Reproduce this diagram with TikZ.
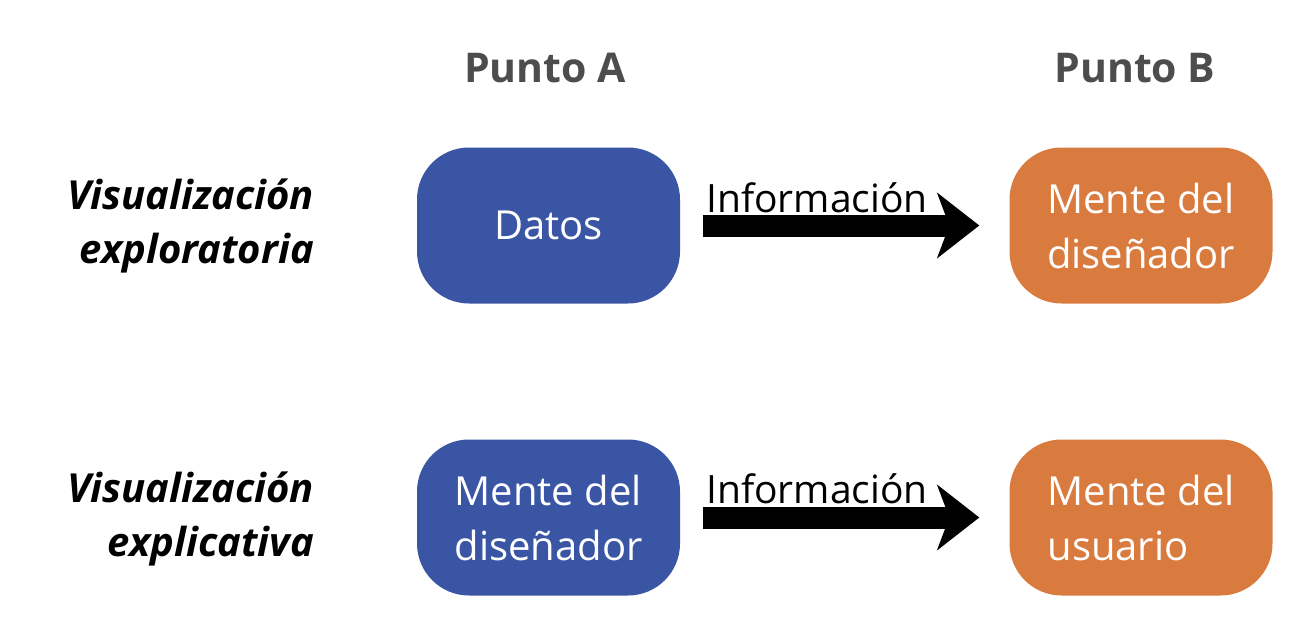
\documentclass[tikz,border=0pt]{standalone}
\usepackage{fontspec}
\setmainfont{Open Sans}
\usetikzlibrary{arrows.meta}
\definecolor{boxblue}{HTML}{3A55A4}
\definecolor{boxorange}{HTML}{D97B3E}
\definecolor{titlegray}{HTML}{4D4D4D}
\begin{document}
\begin{tikzpicture}[x=1pt,y=-1pt,
 box/.style={rounded corners=52pt, minimum width=263pt, minimum height=156pt, inner sep=0pt, text=white, font=\fontsize{40}{55}\selectfont, align=left},
 bluebox/.style={box, fill=boxblue},
 orangebox/.style={box, fill=boxorange},
 rowlabel/.style={anchor=east, inner sep=0pt, align=right, font=\fontsize{40}{54}\selectfont\bfseries\itshape},
 title/.style={anchor=base, inner sep=0pt, text=titlegray, font=\fontsize{41}{50}\selectfont\bfseries},
 flow/.style={line width=22pt, -{Stealth[length=42pt,width=65pt,inset=12pt]}, shorten <=23pt, shorten >=30pt},
 flowlabel/.style={anchor=base, inner sep=0pt, font=\fontsize{39}{48}\selectfont}]
\useasboundingbox (0,0) rectangle (1312,629);
\node[title] (pa) at (545,82) {Punto A};
\node[title] (pb) at (1135,82) {Punto B};
\node[rowlabel] (r1) at (314,226) {Visualización\\exploratoria};
\node[rowlabel] (r2) at (314,519) {Visualización\\explicativa};
\node[bluebox] (datos) at (548.5,225.5) {Datos};
\node[orangebox] (mente1) at (1141,225.5) {Mente del\\diseñador};
\node[bluebox] (mente2) at (548.5,517.5) {Mente del\\diseñador};
\node[orangebox] (usuario) at (1141,517.5) {Mente del\\usuario};
\draw[flow] (datos) -- (mente1);
\draw[flow] (mente2) -- (usuario);
\node[flowlabel] (i1) at (817,212) {Información};
\node[flowlabel] (i2) at (817,503) {Información};
\end{tikzpicture}
\end{document}
